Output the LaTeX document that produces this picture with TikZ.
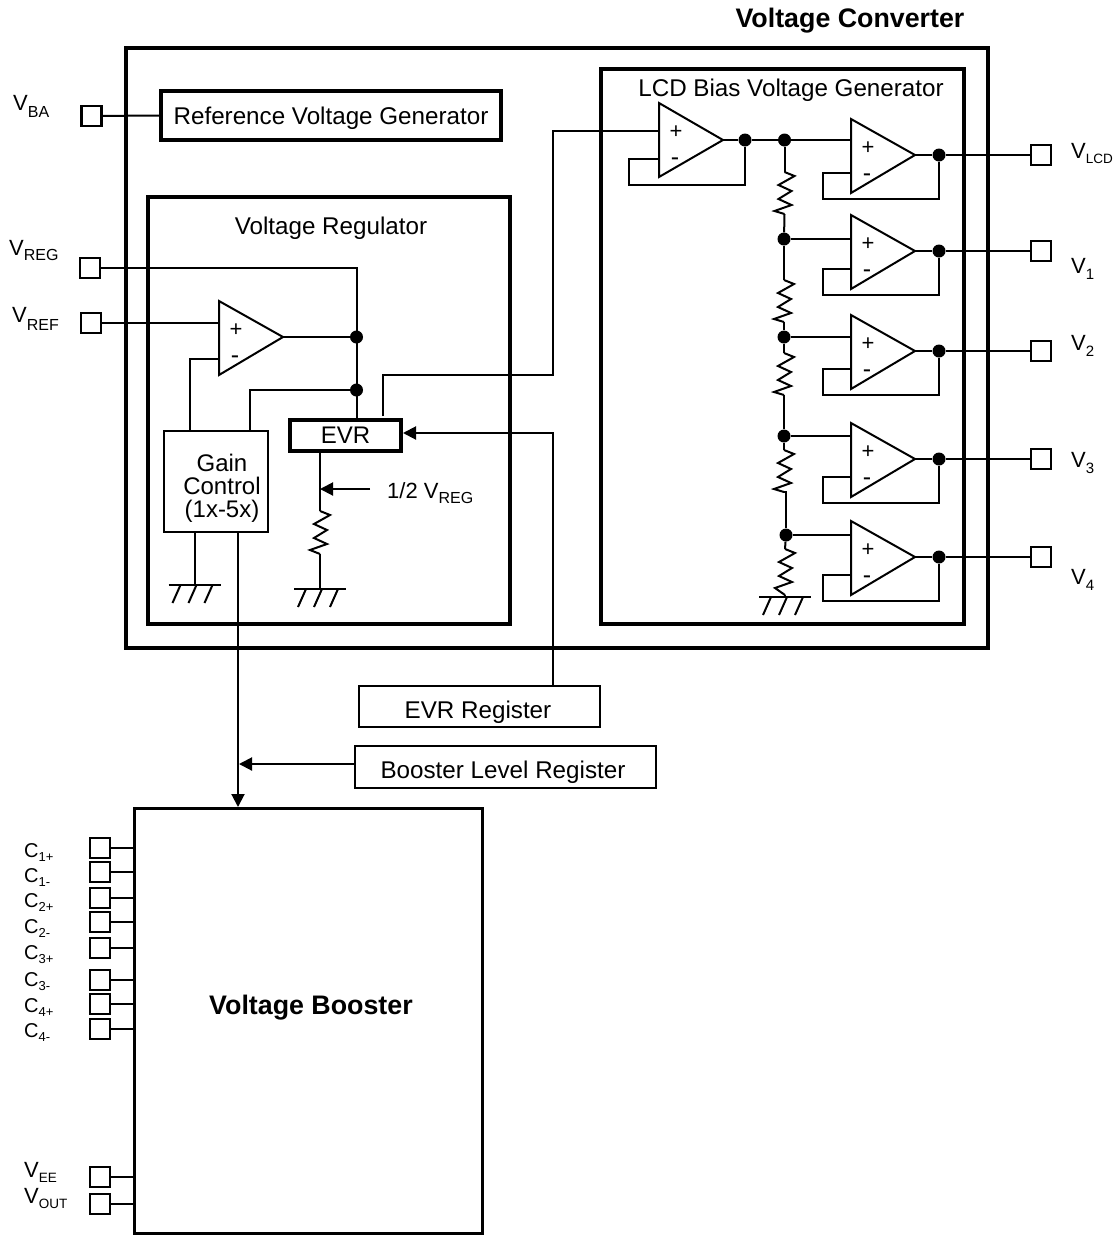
\documentclass[tikz,border=0pt]{standalone}
\usepackage{fontspec}
\setmainfont{Liberation Sans}
\usetikzlibrary{arrows.meta}
\tikzset{
  wire/.style={line width=2pt,line join=miter},
  thickwire/.style={line width=2.6pt},
  heavybox/.style={draw,line width=4pt,inner sep=0pt},
  lightbox/.style={draw,line width=2.2pt,inner sep=0pt},
  pinbox/.style={draw,line width=2.4pt,minimum width=20pt,minimum height=20pt,inner sep=0pt,fill=white},
  junction/.style={circle,fill=black,minimum size=13pt,inner sep=0pt},
  txt/.style={inner sep=0pt,text height=17.3pt,text depth=0pt,font=\fontsize{24.2}{24.2}\selectfont},
  lbl/.style={inner sep=0pt,anchor=base west,font=\fontsize{22}{22}\selectfont},
  clbl/.style={inner sep=0pt,anchor=base west,font=\fontsize{20}{20}\selectfont},
  sgnp/.style={inner sep=0pt,font=\fontsize{22}{22}\selectfont},
  sgnm/.style={inner sep=0pt,font=\fontsize{25}{25}\selectfont},
  tip/.style={-{Triangle[length=13pt,width=13pt]}}
}
\newcommand{\sbs}[3]{\raisebox{-#2pt}{\fontsize{#1}{#1}\selectfont #3}}
\newcommand{\opampx}[8]{%
  \coordinate (#1a) at (#2,#3);
  \coordinate (#1o) at (#6,#4);
  \coordinate (#1c) at (#2,#5);
  \coordinate (#1p) at (#2,#7);
  \coordinate (#1m) at (#2,#8);
  \draw[wire] (#1a)--(#1o)--(#1c)--cycle;
  \node[sgnp] (#1plus) at (#2+17,#3+29) {+};
  \node[sgnm] (#1minus) at (#2+16,#3+59) {-};
}
\newcommand{\resistorx}[4]{%
  \coordinate (#1t) at (#2,#3);
  \coordinate (#1b) at (#2,#3+#4);
  \draw[wire] (#1t) -- ++(10,4) -- ++(-16,9) -- ++(13,6) -- ++(-13,8) -- ++(13,6) -- ++(-17,6) -- (#1b);
}
\newcommand{\groundx}[3]{%
  \coordinate (#1) at (#2,#3);
  \draw[wire] (#2-26,#3) -- (#2+26,#3);
  \draw[wire] (#2-14,#3) -- ++(-8,18);
  \draw[wire] (#2+2,#3) -- ++(-8,18);
  \draw[wire] (#2+18,#3) -- ++(-8,18);
}
\begin{document}
\begin{tikzpicture}[x=1pt,y=-1pt]
\useasboundingbox (0,0) rectangle (1117,1235);

% frames
\draw[line width=4pt] (126,48) rectangle (988,648);
\draw[line width=4pt] (148,197) rectangle (510,624);
\draw[line width=4pt] (601,69) rectangle (964,624);
\node[txt,font=\fontsize{26.8}{26.8}\selectfont\bfseries] (title) at (850,19) {Voltage Converter};
\node[txt] (vrtitle) at (331,226) {Voltage Regulator};
\node[txt] (lcdtitle) at (791,88) {LCD Bias Voltage Generator};

% reference generator
\node[heavybox,txt,minimum width=340pt,minimum height=49pt] (refgen) at (331,115.5) {Reference Voltage Generator};
\node[pinbox] (pba) at (91.5,116) {};
\draw[wire] (pba) -- (refgen.west);
\node[lbl] (lba) at (13,110) {V\sbs{16}{7.5}{BA}};

% regulator
\node[pinbox] (preg) at (90,268) {};
\node[pinbox] (pref) at (91,323) {};
\node[lbl] (lreg) at (9,255) {V\sbs{16}{5}{REG}};
\node[lbl] (lref) at (12,322) {V\sbs{16}{8}{REF}};
\opampx{ua}{219}{301}{337}{375}{283}{323}{359}
\node[draw,lightbox,minimum width=104pt,minimum height=101pt,anchor=north west] (gain) at (163,430) {};
\node[inner sep=0pt,align=center,font=\fontsize{24}{23}\selectfont] (gaintxt) at (222,488) {Gain\\Control\\(1x-5x)};
\node[heavybox,minimum width=111pt,minimum height=31pt,anchor=north west,font=\fontsize{24}{24}\selectfont] (evr) at (288,418) {EVR};
\node[junction] (j1) at (356.5,337) {};
\node[junction] (j2) at (356.5,390) {};
\coordinate (evrtop) at (356.5,418);
\draw[wire] (preg) -- (356.5,268) -- (evrtop);
\draw[wire] (pref) -- (uap);
\draw[wire] (uao) -- (j1);
\draw[wire] (uam) -| (190,431);
\draw[wire] (j2) -| (250,431);

% EVR output
\coordinate (evrb) at (320,452);
\coordinate (tapt) at (320,489);
\resistorx{ra}{320}{511}{43}
\groundx{ga}{320}{589}
\draw[wire] (evrb) -- (rat);
\draw[wire] (rab) -- (ga);
\node[lbl] (half) at (387,498) {1/2 V\sbs{16}{5.5}{REG}};
\coordinate (tapf) at (370,489);
\draw[wire,tip] (tapf) -- (tapt);

% gain ground and booster control
\groundx{gb}{194.5}{585}
\draw[wire] (gain.south -| gb) -- (gb);

% LCD bias first buffer
\opampx{ub}{659}{103}{140}{177}{723}{131}{159}
\node[junction] (jb) at (745,140) {};
\node[junction] (jc) at (784.5,140) {};
\draw[wire] (ubo) -- (jb) -- (jc);
\draw[wire] (jb) -- (745,185) -- (629,185) -- (629,159) -- (ubm);
\coordinate (evrout) at (383,416);
\draw[wire] (evrout) -- (383,375) -- (553,375) -- (553,131) -- (ubp);

% output buffers
\opampx{uc}{851}{119}{155}{193}{915}{140}{173}
\opampx{ud}{851}{215}{251}{289}{915}{239}{269}
\opampx{ue}{851}{315}{351}{389}{915}{337}{369}
\opampx{uf}{851}{423}{459}{497}{915}{436}{477}
\opampx{ug}{851}{521}{557}{595}{915}{535}{575}
\node[junction] (oc) at (939,155) {};
\node[junction] (od) at (939,251) {};
\node[junction] (oe) at (939,351) {};
\node[junction] (of) at (939,459) {};
\node[junction] (og) at (939,557) {};
\node[pinbox] (pc) at (1041,155) {};
\node[pinbox] (pd) at (1041,251) {};
\node[pinbox] (pe) at (1041,351) {};
\node[pinbox] (pf) at (1041,459) {};
\node[pinbox] (pg) at (1041,557) {};
\foreach \u/\o/\p/\f in {uc/oc/pc/199,ud/od/pd/295,ue/oe/pe/395,uf/of/pf/503,ug/og/pg/601}{
  \draw[wire] (\u o) -- (\o);
  \draw[thickwire] (\o) -- (\p);
  \draw[wire] (\o) -- (939,\f) -- (823,\f) |- (\u m);
}
\node[lbl] (lc) at (1071,158) {V\sbs{13.5}{5.5}{LCD}};
\node[lbl] (ld) at (1071,273) {V\sbs{15}{6.5}{1}};
\node[lbl] (le) at (1071,350) {V\sbs{15}{6.5}{2}};
\node[lbl] (lf) at (1071,467) {V\sbs{15}{6.5}{3}};
\node[lbl] (lg) at (1071,584) {V\sbs{15}{6.5}{4}};

% divider
\node[junction] (jd) at (784,239) {};
\node[junction] (je) at (784,337) {};
\node[junction] (jf) at (784,436) {};
\node[junction] (jg) at (786,535) {};
\resistorx{rb}{784.5}{172}{42}
\resistorx{rc}{784}{280}{42}
\resistorx{rd}{784}{353}{42}
\resistorx{re}{784}{450}{42}
\resistorx{rf}{785}{549}{46}
\groundx{gc}{785}{597}
\draw[wire] (jc) -- (rbt);
\draw[wire] (rbb) -- (jd);
\draw[wire] (jd) -- (rct);
\draw[wire] (rcb) -- (je);
\draw[wire] (je) -- (rdt);
\draw[wire] (rdb) -- (jf);
\draw[wire] (jf) -- (ret);
\draw[wire] (reb) -- (786,492) -- (jg);
\draw[wire] (jg) -- (rft);
\draw[wire] (rfb) -- (gc);
\draw[wire] (jc) -- (ucp);
\draw[wire] (jd) -- (udp);
\draw[wire] (je) -- (uep);
\draw[wire] (jf) -- (ufp);
\draw[wire] (jg) -- (ugp);

% registers
\node[lightbox,minimum width=241pt,minimum height=41pt,anchor=north west] (evrreg) at (358,685) {};
\node[txt] (evrregt) at (478,710) {EVR Register};
\node[lightbox,minimum width=301pt,minimum height=42pt,anchor=north west] (blreg) at (354,745) {};
\node[txt] (blregt) at (503,770) {Booster Level Register};
\coordinate (regtap) at (553,686);
\coordinate (evrtap) at (553,433);
\coordinate (evrin) at (403,433);
\draw[wire,tip] (regtap) -- (evrtap) -- (evrin);

% booster
\node[draw,line width=3pt,inner sep=0pt,minimum width=348pt,minimum height=425pt,anchor=north west] (boost) at (132.5,806.5) {};
\node[txt,font=\fontsize{26.8}{26.8}\selectfont\bfseries] (boostt) at (311,1006) {Voltage Booster};
\coordinate (gout) at (238,532);
\coordinate (bin) at (238,807);
\draw[wire,tip] (gout) -- (bin);
\coordinate (blj) at (239,764);
\draw[wire,tip] (blreg.west |- blj) -- (blj);

\foreach \n/\y/\b/\t in {a/848/857/1+,b/872/882/1-,c/898/907/2+,d/922/933/2-,e/948/959/3+,f/980/986/3-,g/1004/1012/4+,h/1029/1037/4-}{
  \node[pinbox] (cp\n) at (100,\y) {};
  \draw[thickwire] (cp\n) -- (134,\y);
  \node[clbl] (cl\n) at (24,\b) {C\sbs{13}{4}{\t}};
}
\node[pinbox] (pee) at (100,1177) {};
\node[pinbox] (pout) at (100,1204) {};
\draw[thickwire] (pee) -- (134,1177);
\draw[thickwire] (pout) -- (134,1204);
\node[lbl] (lee) at (24,1177) {V\sbs{13.5}{5}{EE}};
\node[lbl] (lout) at (24,1203) {V\sbs{13.5}{5}{OUT}};
\end{tikzpicture}
\end{document}
